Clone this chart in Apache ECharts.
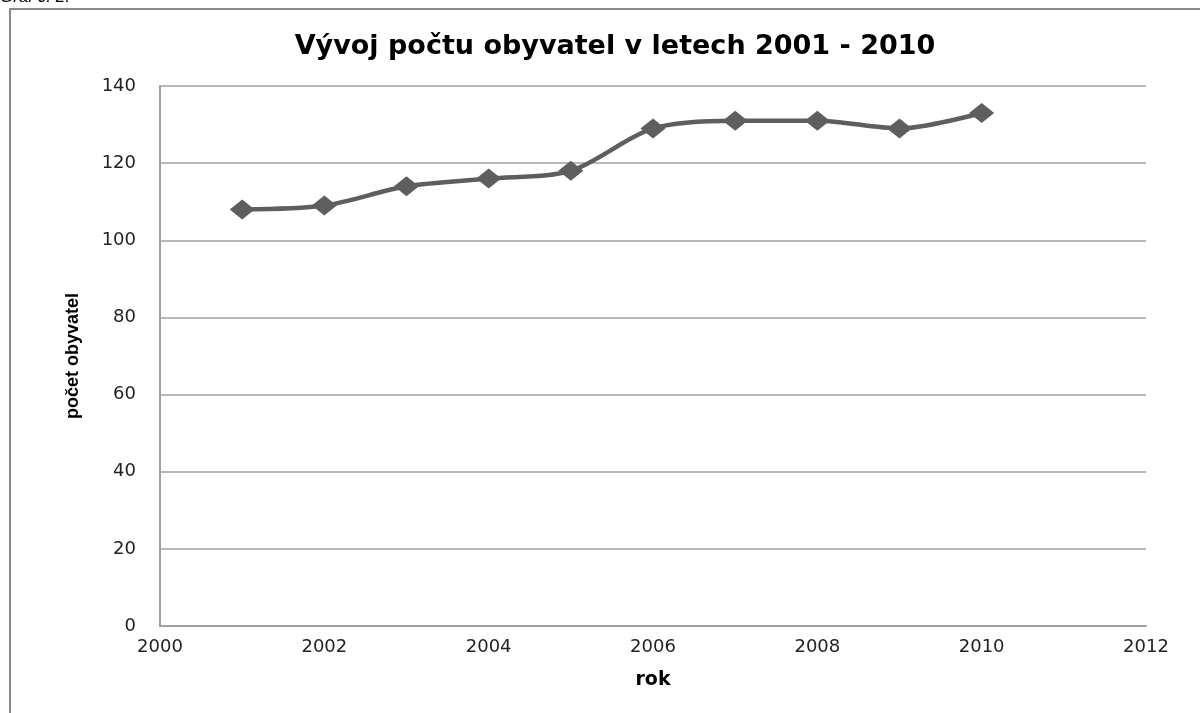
<!DOCTYPE html>
<html>
<head>
<meta charset="utf-8">
<script src="https://cdn.jsdelivr.net/npm/echarts@6/dist/echarts.min.js"></script>
<style>
html,body{margin:0;padding:0;background:#fff;}
#c{width:1200px;height:713px;}
</style>
</head>
<body>
<div id="c"></div>
<script>
const years = [2001, 2002, 2003, 2004, 2005, 2006, 2007, 2008, 2009, 2010];
const population = [108, 109, 114, 116, 118, 129, 131, 131, 129, 133];
const titleText = 'Vývoj počtu obyvatel v letech 2001 - 2010';
const xName = 'rok';
const yName = 'počet obyvatel';
const caption = 'Graf č. 2.';

const chart = echarts.init(document.getElementById('c'));
chart.setOption({
  animation: false,
  backgroundColor: '#fff',
  title: {
    text: titleText,
    left: 610,
    textAlign: 'center',
    top: 28,
    textStyle: {fontFamily: 'DejaVu Sans', fontWeight: 'bold', fontSize: 27, color: '#000'}
  },
  graphic: [
    {type: 'rect', shape: {x: 10, y: 9, width: 1400, height: 900},
     style: {fill: 'none', stroke: '#8a8a8a', lineWidth: 2}, silent: true},
    {type: 'text', left: 0, top: -11,
     style: {text: caption, font: 'italic 17px Liberation Sans, Arial', fill: '#000'}}
  ],
  grid: {left: 160, right: 54, top: 86, bottom: 87, containLabel: false},
  xAxis: {
    type: 'value', min: 2000, max: 2012, interval: 2,
    name: xName, nameLocation: 'middle', nameGap: 45,
    nameTextStyle: {fontFamily: 'DejaVu Sans', fontWeight: 'bold', fontSize: 19, color: '#000'},
    axisLine: {show: true, lineStyle: {color: '#a0a0a0', width: 2}},
    axisTick: {show: false},
    splitLine: {show: false},
    axisLabel: {fontFamily: 'DejaVu Sans', fontSize: 18, color: '#222', margin: 12,
      formatter: v => String(v)}
  },
  yAxis: {
    type: 'value', min: 0, max: 140, interval: 20,
    name: yName, nameLocation: 'middle', nameGap: 78, nameRotate: 90,
    nameTextStyle: {fontFamily: 'Liberation Sans', fontWeight: 'bold', fontSize: 18, color: '#000'},
    axisLine: {show: true, lineStyle: {color: '#a0a0a0', width: 2}},
    axisTick: {show: false},
    splitLine: {show: true, lineStyle: {color: '#a0a0a0', width: 1.5}},
    axisLabel: {fontFamily: 'DejaVu Sans', fontSize: 18, color: '#222', margin: 24}
  },
  series: [{
    type: 'line',
    data: years.map((y, i) => [y, population[i]]),
    smooth: 0.3,
    symbol: 'diamond',
    symbolSize: [25, 20],
    lineStyle: {color: '#5e5e5e', width: 4.5},
    itemStyle: {color: '#5e5e5e'}
  }]
});
</script>
</body>
</html>
